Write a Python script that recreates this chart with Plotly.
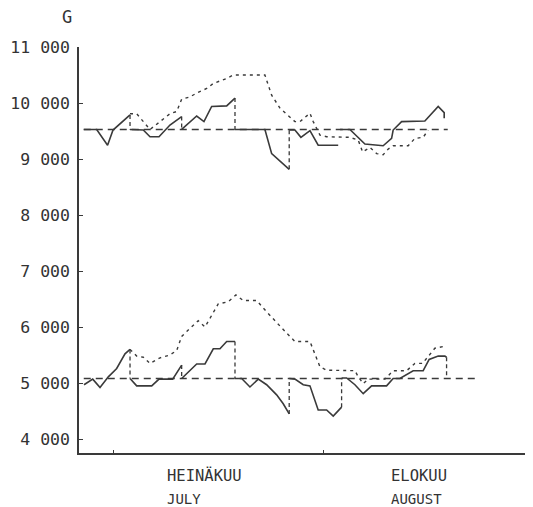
import plotly.graph_objects as go

# ---- data (x = days from start of July, y = G) ----
upper_base = 9530
lower_base = 5090
upper_base_days = [-4.3, 49.2]
lower_base_days = [-4.3, 53.2]

upper_solid_days = [-4.3, -2.4, -0.8, 0, 2.5, None,
                    2.5, 4.45, 5.44, 6.76, 8.37, 10.09, None,
                    10.09, 12.3, 13.37, 14.5, 16.71, 17.93, None,
                    17.93, 22.33, 23.32, 25.9, None,
                    25.9, 26.74, 27.62, 28.95, 30.16, 33.1, None,
                    33.35, 34.82, 37.03, 39.71, 40.95, 41.18, 42.42, 45.84, 47.8, 48.68, 48.68]
upper_solid_vals = [9530, 9530, 9250, 9520, 9790, None,
                    9530, 9520, 9400, 9400, 9610, 9760, None,
                    9530, 9770, 9670, 9940, 9950, 10090, None,
                    9530, 9530, 9100, 8820, None,
                    9520, 9520, 9390, 9510, 9250, 9250, None,
                    9530, 9530, 9270, 9240, 9370, 9520, 9670, 9680, 9940, 9830, 9730]

upper_dotted_days = [2.5, 3.48, 5.44, 6.91, 8.37, 9.36, 10.09, 11.31, 12.3, 13.77, 14.74, 16.71,
                     17.68, 22.33, 23.32, 24.54, 26.74, 27.48, 28.95, 29.43, 30.42, 31.4, 34.82,
                     36.04, 36.69, 37.76, 38.75, 39.71, 40.45, 41.18, 43.39, 44.37, 45.59, 46.33]
upper_dotted_vals = [9810, 9810, 9530, 9670, 9810, 9850, 10070, 10110, 10180, 10260, 10350, 10440,
                     10500, 10500, 10140, 9910, 9670, 9670, 9820, 9670, 9430, 9400, 9390,
                     9340, 9130, 9210, 9100, 9080, 9180, 9240, 9240, 9370, 9390, 9520]

upper_reset_days = [2.5, 10.09, 17.93, 25.9]
upper_reset_vals = [9790, 9760, 10090, 8820]

lower_solid_days = [-4.26, -2.98, -1.91, -0.69, 0.54, 1.76, 2.5, None,
                    2.5, 3.48, 5.69, 6.76, 8.77, 10.09, None,
                    10.09, 12.3, 13.52, 14.74, 15.72, 16.71, 17.93, None,
                    17.93, 18.91, 20.13, 21.35, 22.58, 24.05, 25.02, 25.9, None,
                    25.9, 26.74, 27.96, 28.95, 30.16, 31.4, 32.37, 33.6, None,
                    33.6, 34.34, 35.56, 36.78, 38.01, 40.21, 41.18, 42.17, 44.12, 45.59, 46.47,
                    47.8, 48.78, 49.03]
lower_solid_vals = [4980, 5080, 4930, 5120, 5270, 5530, 5610, None,
                    5090, 4960, 4960, 5080, 5080, 5330, None,
                    5090, 5350, 5350, 5620, 5620, 5750, 5750, None,
                    5090, 5090, 4940, 5080, 4980, 4800, 4640, 4460, None,
                    5090, 5080, 4980, 4960, 4530, 4530, 4420, 4580, None,
                    5100, 5100, 4980, 4820, 4960, 4960, 5090, 5090, 5230, 5230, 5430,
                    5490, 5490, 5470]

lower_dotted_days = [2.5, 3.48, 4.45, 5.44, 6.91, 8.37, 9.36, 10.09, 10.83, 12.53, 13.52, 14.74,
                     15.47, 16.94, 18.07, 19.15, 21.12, 22.58, 24.05, 25.52, 26.74, 28.95, 30.42,
                     31.4, 35.56, 36.05, 36.78, 37.52, 39.97, 41.18, 43.16, 44.37, 45.5, 47.31, 48.53]
lower_dotted_vals = [5610, 5490, 5470, 5360, 5460, 5510, 5590, 5840, 5930, 6120, 6010, 6280,
                     6420, 6460, 6580, 6480, 6480, 6280, 6080, 5900, 5750, 5750, 5300,
                     5240, 5230, 5120, 5000, 5080, 5080, 5230, 5230, 5360, 5360, 5630, 5660]

lower_reset_days = [2.5, 10.09, 17.93, 25.9, 33.6, 49.03]
lower_reset_vals = [5610, 5330, 5750, 4460, 4580, 5470]

y_tick_vals = [4000, 5000, 6000, 7000, 8000, 9000, 10000, 11000]
y_tick_text = ["4 000", "5 000", "6 000", "7 000", "8 000", "9 000", "10 000", "11 000"]
month_days = [0, 31]
month_fi = ["HEINÄKUU", "ELOKUU"]
month_en = ["JULY", "AUGUST"]
month_label_days = [7.6, 40.5]

# ---- styling ----
INK = "#3a3a3a"
TXT = "#333333"
MONO = "DejaVu Sans Mono, Liberation Mono, monospace"


def resets(days, vals, base):
    xs, ys = [], []
    for d, v in zip(days, vals):
        xs += [d, d, None]
        ys += [v, base, None]
    return xs, ys


fig = go.Figure()

for days, base in [(upper_base_days, upper_base), (lower_base_days, lower_base)]:
    fig.add_trace(go.Scatter(x=days, y=[base] * len(days), mode="lines",
                             line=dict(color=INK, width=1.4, dash="7px,5px"),
                             hoverinfo="skip"))

for days, vals, base in [(upper_reset_days, upper_reset_vals, upper_base),
                         (lower_reset_days, lower_reset_vals, lower_base)]:
    xs, ys = resets(days, vals, base)
    fig.add_trace(go.Scatter(x=xs, y=ys, mode="lines",
                             line=dict(color=INK, width=1.3, dash="4px,3px"),
                             hoverinfo="skip"))

for days, vals in [(upper_dotted_days, upper_dotted_vals), (lower_dotted_days, lower_dotted_vals)]:
    fig.add_trace(go.Scatter(x=days, y=vals, mode="lines",
                             line=dict(color=INK, width=1.4, dash="3px,4px"),
                             hoverinfo="skip"))

for days, vals in [(upper_solid_days, upper_solid_vals), (lower_solid_days, lower_solid_vals)]:
    fig.add_trace(go.Scatter(x=days, y=vals, mode="lines", connectgaps=False,
                             line=dict(color=INK, width=1.6),
                             hoverinfo="skip"))

annotations = [dict(text="G", x=-0.027, y=1.0746, xref="paper", yref="paper",
                    xanchor="center", yanchor="middle",
                    showarrow=False, font=dict(family=MONO, size=17, color=TXT))]
for d, fi, en in zip(month_label_days, month_fi, month_en):
    annotations.append(dict(text=fi, x=d, y=-0.056, xref="x", yref="paper", xanchor="left",
                            yanchor="middle", showarrow=False,
                            font=dict(family=MONO, size=15.5, color=TXT)))
    annotations.append(dict(text=en, x=d, y=-0.114, xref="x", yref="paper", xanchor="left",
                            yanchor="middle", showarrow=False,
                            font=dict(family=MONO, size=14, color=TXT)))

# the page body has an 8px default margin, so the figure is 8px smaller
fig.update_layout(
    width=525, height=499,
    margin=dict(l=71, r=5, t=39, b=54, autoexpand=False),
    paper_bgcolor="white", plot_bgcolor="white",
    showlegend=False,
    annotations=annotations,
    xaxis=dict(range=[-5, 61], showgrid=False, zeroline=False, showline=True, automargin=False,
               linecolor=INK, linewidth=1.5, ticks="inside", ticklen=3, tickwidth=1,
               tickcolor=INK, tickvals=month_days, showticklabels=False),
    yaxis=dict(range=[3763, 11000], showgrid=False, zeroline=False, showline=True, automargin=False,
               linecolor=INK, linewidth=1.5, ticks="inside", ticklen=4, tickwidth=1,
               tickcolor=INK, tickvals=y_tick_vals, ticktext=y_tick_text,
               ticklabelstandoff=4,
               tickfont=dict(family=MONO, size=16.5, color=TXT)),
)

fig.write_html("out.html")
